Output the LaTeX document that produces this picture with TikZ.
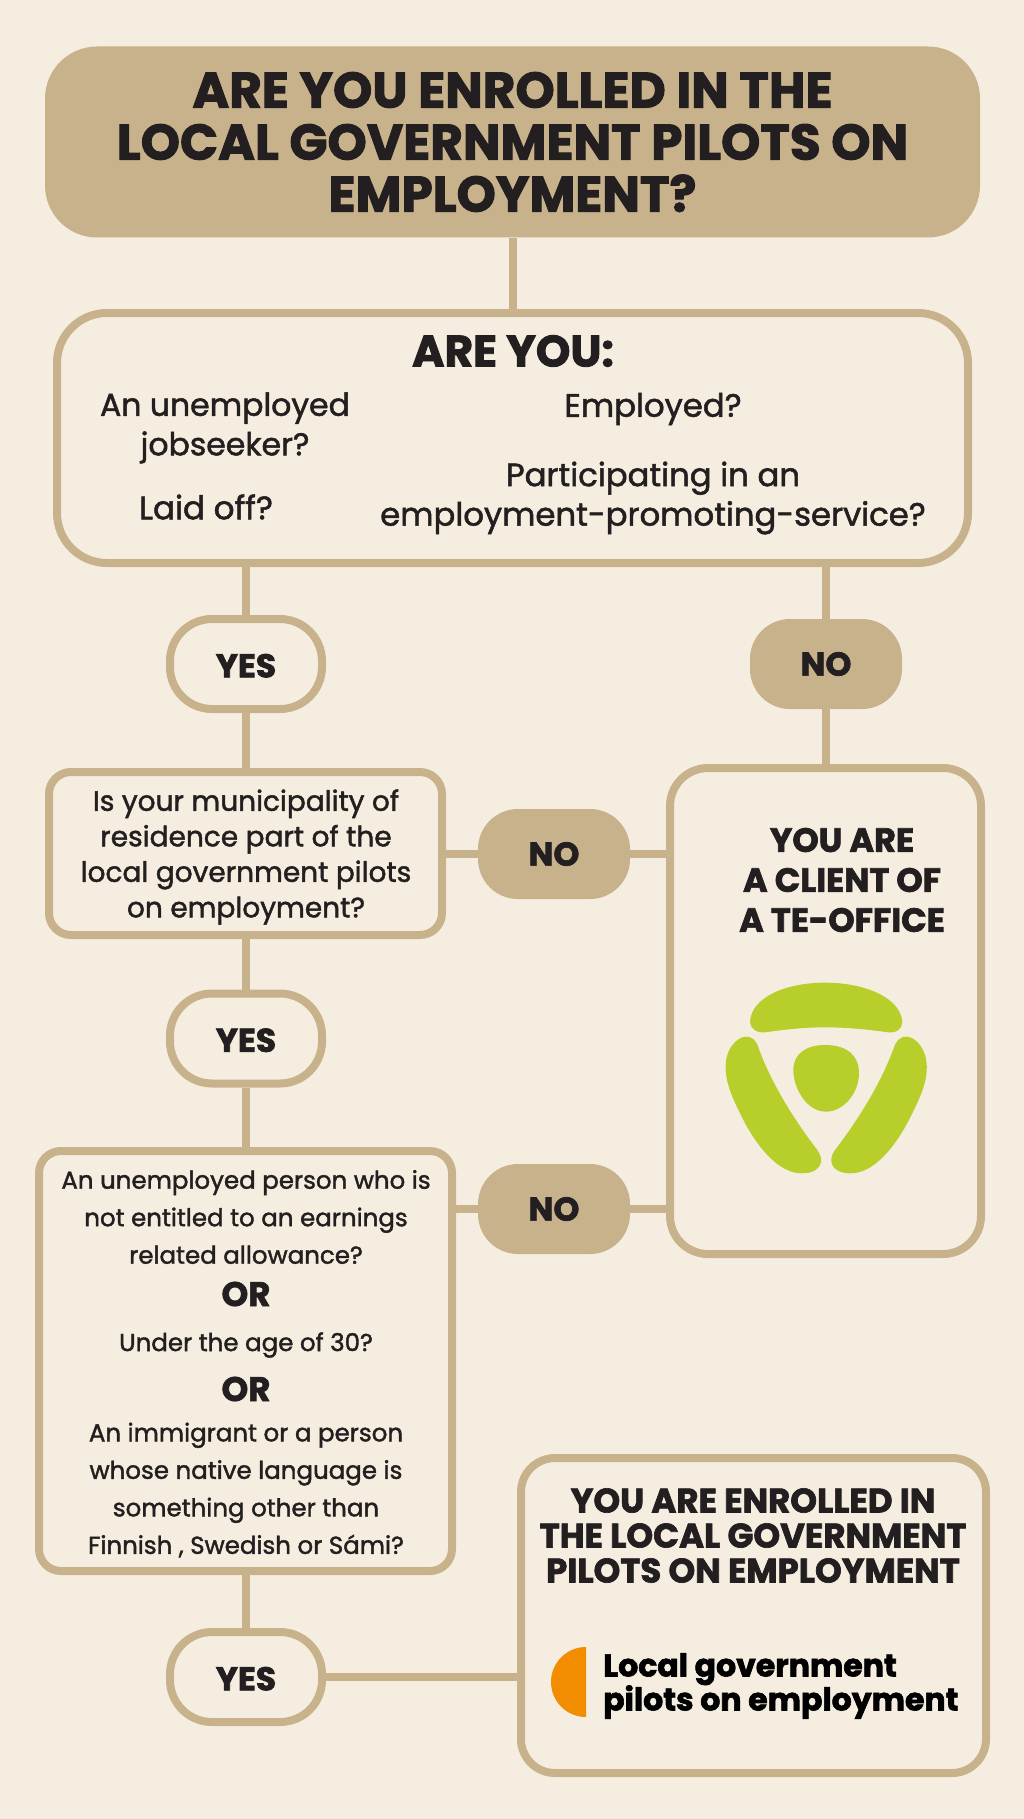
\documentclass[tikz,border=0pt]{standalone}
\usepackage{fontspec}
\setmainfont{Poppins}
\usepackage{xcolor}
\definecolor{paper}{HTML}{F5EEE0}
\definecolor{tan}{HTML}{C7B28B}
\definecolor{ink}{HTML}{231F20}
\definecolor{lime}{HTML}{B7CE2B}
\definecolor{tango}{HTML}{F28C00}
\newfontfamily\heavyfont[BoldFeatures={FakeBold=2}]{Poppins}
\newfontfamily\midfont[FakeBold=1.6]{Poppins}
\begin{document}
\begin{tikzpicture}
      [
      x=1pt, y=-1pt,
      every node/.style={text=ink,align=center},
      frame/.style={draw=tan,fill=paper,line width=8pt,rounded corners=#1},
      frame/.default={22pt},
      head/.style 2 args={font=\heavyfont\bfseries\fontsize{#1}{#2}\selectfont},
      plain/.style 2 args={font=\midfont\fontsize{#1}{#2}\selectfont},
      yesnode/.style={frame=42pt,minimum width=152pt,minimum height=90pt,head={33}{36},text height=27pt},
      nonode/.style={fill=tan,rounded corners=40pt,minimum width=152pt,minimum height=90pt,head={33}{36}},
      link/.style={draw=tan,line width=8pt},
      ]
      \useasboundingbox (0,0) rectangle (1024,1819);
      \fill[paper] (0,0) rectangle (1024,1819);

      % boxes
      \node[fill=tan,rounded corners=52pt,minimum width=935pt,minimum height=191pt] (title) at (512.5,142) {};
      \node[frame=50pt,minimum width=911pt,minimum height=250pt] (areyou) at (512.5,438) {};
      \node[frame,minimum width=393pt,minimum height=163pt] (municipal) at (245.5,853.5) {};
      \node[frame=38pt,minimum width=311pt,minimum height=486pt] (client) at (825.5,1011) {};
      \node[frame,minimum width=413pt,minimum height=420pt] (criteria) at (245.5,1361) {};
      \node[frame=34pt,minimum width=465pt,minimum height=315pt] (enrolled) at (753.5,1615.5) {};

      % yes and no
      \node[yesnode] (yesa) at (246,664) {YES};
      \node[yesnode] (yesb) at (246,1038.5) {YES};
      \node[yesnode] (yesc) at (246,1677) {YES};
      \node[nonode] (noa) at (826,664) {NO};
      \node[nonode] (nob) at (554,854) {NO};
      \node[nonode] (noc) at (554,1209) {NO};

      % links
      \draw[link] (title.south) -- (areyou.north);
      \draw[link] (yesa.north) -- (yesa.north |- areyou.south);
      \draw[link] (noa.north) -- (noa.north |- areyou.south);
      \draw[link] (yesa.south) -- (municipal.north -| yesa.south);
      \draw[link] (noa.south) -- (client.north -| noa.south);
      \draw[link] (municipal.south -| yesb.north) -- (yesb.north);
      \draw[link] (yesb.south) -- (criteria.north -| yesb.south);
      \draw[link] (criteria.south -| yesc.north) -- (yesc.north);
      \draw[link] (municipal.east |- nob.west) -- (nob.west);
      \draw[link] (nob.east) -- (client.west |- nob.east);
      \draw[link] (criteria.east |- noc.west) -- (noc.west);
      \draw[link] (noc.east) -- (client.west |- noc.east);
      \draw[link] (yesc.east) -- (enrolled.west |- yesc.east);

      % texts
      \node[head={50}{52}] (titletext) at (title) {ARE YOU ENROLLED IN THE\\LOCAL GOVERNMENT PILOTS ON\\EMPLOYMENT?};
      \node[head={44}{48}] (areyoutext) at (513,351) {ARE YOU:};
      \node[plain={31.5}{39.5}] (jobseeker) at (225,428) {An unemployed\\jobseeker?};
      \node[plain={32.5}{39.5}] (laidoff) at (206,507) {Laid off?};
      \node[plain={32.3}{39.5}] (employed) at (653,409) {Employed?};
      \node[plain={32.3}{39.5}] (service) at (653,498) {Participating in an\\employment-promoting-service?};
      \node[plain={28}{35.5}] (municipaltext) at (246,857) {Is your municipality of\\residence part of the\\local government pilots\\on employment?};
      \node[head={33.5}{40}] (clienttext) at (842,880) {YOU ARE\\A CLIENT OF\\A TE-OFFICE};
      \node[plain={24.5}{37.5}] (criteriaa) at (246,1217) {An unemployed person who is\\not entitled to an earnings\\related allowance?};
      \node[head={34}{36}] (ora) at (246,1294) {OR};
      \node[plain={24.5}{30}] (age) at (246,1345) {Under the age of 30?};
      \node[head={34}{36}] (orb) at (246,1389) {OR};
      \node[plain={24.5}{37.5}] (criteriab) at (246,1490) {An immigrant or a person\\whose native language is\\something other than\\Finnish , Swedish or Sámi?};
      \node[head={34}{35}] (enrolledtext) at (753,1535.5) {YOU ARE ENROLLED IN\\THE LOCAL GOVERNMENT\\PILOTS ON EMPLOYMENT};
      \node[head={31.5}{34},anchor=west,align=left,text=black,inner sep=0pt] (pilots) at (603,1686) {Local government\\pilots on employment};

      % half disc
      \fill[tango] (586,1717) arc (90:270:35) -- cycle;

      % logo
      \begin{scope}[shift={(700,960)},x=0.3333pt,y=-0.3333pt,lime]
        \fill (150,185) .. controls (155,110) and (260,68) .. (375,68)
          .. controls (490,68) and (600,110) .. (607,185)
          .. controls (608,205) and (590,220) .. (565,217)
          .. controls (500,208) and (440,202) .. (375,202)
          .. controls (310,202) and (260,208) .. (195,217)
          .. controls (170,220) and (150,205) .. (150,185) -- cycle;
        \fill (280,330) .. controls (280,280) and (320,255) .. (375,255)
          .. controls (440,255) and (477,285) .. (477,340)
          .. controls (477,400) and (430,455) .. (378,455)
          .. controls (320,455) and (280,385) .. (280,330) -- cycle;
        \fill (135,230) .. controls (155,228) and (168,240) .. (175,262)
          .. controls (210,360) and (275,470) .. (352,570)
          .. controls (375,600) and (365,640) .. (305,640)
          .. controls (235,640) and (170,560) .. (125,470)
          .. controls (90,400) and (75,360) .. (77,310)
          .. controls (80,270) and (105,235) .. (135,230) -- cycle;
        \fill (623,230) .. controls (603,228) and (590,240) .. (582,262)
          .. controls (547,360) and (482,470) .. (405,570)
          .. controls (382,600) and (392,640) .. (452,640)
          .. controls (522,640) and (587,560) .. (632,470)
          .. controls (667,400) and (683,360) .. (680,310)
          .. controls (677,270) and (652,235) .. (623,230) -- cycle;
      \end{scope}
    \end{tikzpicture}
\end{document}
